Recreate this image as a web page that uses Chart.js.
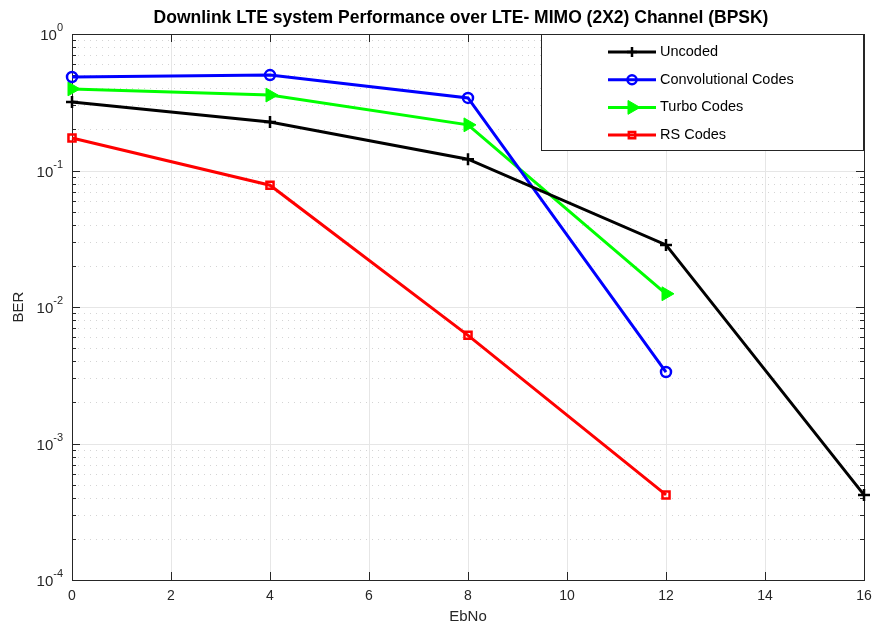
<!DOCTYPE html>
<html><head><meta charset="utf-8">
<script src="https://cdn.jsdelivr.net/npm/chart.js@4"></script>
<style>html,body{margin:0;padding:0;background:#fff}#wrap{width:874px;height:623px}</style>
</head><body><div id="wrap"><canvas id="c" width="874" height="623"></canvas></div>
<script>
const ebno = [0, 4, 8, 12, 16];
const uncoded = [0.318, 0.227, 0.121, 0.0285, 0.00042];
const convolutional = [0.484, 0.50, 0.34, 0.00334];
const turbo = [0.396, 0.357, 0.216, 0.0125];
const rsCodes = [0.173, 0.078, 0.0062, 0.00042];
const xTicks = [0, 2, 4, 6, 8, 10, 12, 14, 16];
const yDecades = [-4, -3, -2, -1, 0];
const titleText = 'Downlink LTE system Performance over LTE- MIMO (2X2) Channel (BPSK)';
const xLabel = 'EbNo';
const yLabel = 'BER';
const seriesNames = ['Uncoded', 'Convolutional Codes', 'Turbo Codes', 'RS Codes'];

const pts = arr => arr.map((v, i) => ({x: ebno[i], y: v}));
const FONT = '"Liberation Sans", Arial, sans-serif';

const datasets = [
  {label: seriesNames[0], data: pts(uncoded), borderColor: '#000', backgroundColor: '#000', pointStyle: 'cross', pointRadius: 6, pointBorderWidth: 2.5, borderWidth: 3, legendRadius: 5, clip: 10},
  {label: seriesNames[1], data: pts(convolutional), borderColor: '#0000ff', backgroundColor: 'rgba(0,0,0,0)', pointStyle: 'circle', pointRadius: 5, pointBorderWidth: 2.5, borderWidth: 3, legendRadius: 4.5, clip: 10},
  {label: seriesNames[2], data: pts(turbo), borderColor: '#00ff00', backgroundColor: '#00ff00', pointStyle: 'triangle', pointRotation: 90, pointRadius: 8, pointBorderWidth: 1, borderWidth: 3, legendRadius: 8, clip: 10},
  {label: seriesNames[3], data: pts(rsCodes), borderColor: '#ff0000', backgroundColor: 'rgba(0,0,0,0)', pointStyle: 'rect', pointRadius: 5, pointBorderWidth: 2.5, borderWidth: 3, legendRadius: 4.5, clip: 10}
];

const decor = {
  id: 'decor',
  beforeDatasetsDraw(chart) {
    const ctx = chart.ctx, a = chart.chartArea, xs = chart.scales.x, ys = chart.scales.y;
    ctx.save();
    ctx.strokeStyle = '#d4d4d4'; ctx.lineWidth = 1; ctx.setLineDash([1, 5]);
    for (let d = -4; d < 0; d++) {
      for (let m = 2; m <= 9; m++) {
        const y = Math.round(ys.getPixelForValue(m * Math.pow(10, d))) + 0.5;
        ctx.beginPath(); ctx.moveTo(a.left, y); ctx.lineTo(a.right, y); ctx.stroke();
      }
    }
    ctx.setLineDash([]);
    ctx.strokeStyle = '#e6e6e6';
    yDecades.forEach(d => {
      const y = Math.round(ys.getPixelForValue(Math.pow(10, d))) + 0.5;
      ctx.beginPath(); ctx.moveTo(a.left, y); ctx.lineTo(a.right, y); ctx.stroke();
    });
    xTicks.forEach(t => {
      const x = Math.round(xs.getPixelForValue(t)) + 0.5;
      ctx.beginPath(); ctx.moveTo(x, a.top); ctx.lineTo(x, a.bottom); ctx.stroke();
    });
    ctx.strokeStyle = '#262626'; ctx.lineWidth = 1;
    ctx.strokeRect(a.left + 0.5, a.top + 0.5, a.right - a.left, a.bottom - a.top);
    ctx.beginPath();
    for (let d = -4; d <= 0; d++) {
      const y = Math.round(ys.getPixelForValue(Math.pow(10, d))) + 0.5;
      ctx.moveTo(a.left, y); ctx.lineTo(a.left + 8, y);
      ctx.moveTo(a.right, y); ctx.lineTo(a.right - 8, y);
      if (d < 0) for (let m = 2; m <= 9; m++) {
        const ym = Math.round(ys.getPixelForValue(m * Math.pow(10, d))) + 0.5;
        ctx.moveTo(a.left, ym); ctx.lineTo(a.left + 4, ym);
        ctx.moveTo(a.right, ym); ctx.lineTo(a.right - 4, ym);
      }
    }
    xTicks.forEach(t => {
      const x = Math.round(xs.getPixelForValue(t)) + 0.5;
      ctx.moveTo(x, a.bottom); ctx.lineTo(x, a.bottom - 8);
      ctx.moveTo(x, a.top); ctx.lineTo(x, a.top + 8);
    });
    ctx.stroke();
    ctx.restore();
  },
  afterDatasetsDraw(chart) {
    const ctx = chart.ctx, a = chart.chartArea, ys = chart.scales.y;
    ctx.save();
    ctx.fillStyle = '#262626';
    yDecades.forEach(d => {
      const y = ys.getPixelForValue(Math.pow(10, d));
      const exp = String(d);
      ctx.font = '11px ' + FONT;
      const ew = ctx.measureText(exp).width;
      ctx.textBaseline = 'alphabetic'; ctx.textAlign = 'left';
      const right = a.left - 9;
      ctx.fillText(exp, right - ew, y - 3);
      ctx.font = '15px ' + FONT;
      const bw = ctx.measureText('10').width;
      ctx.fillText('10', right - ew - bw, y + 6);
    });
    ctx.fillStyle = '#000';
    ctx.font = 'bold 17.5px ' + FONT; ctx.textAlign = 'center'; ctx.textBaseline = 'middle';
    ctx.fillText(titleText, 461, 18);
    ctx.fillStyle = '#262626';
    ctx.font = '15px ' + FONT;
    ctx.fillText(xLabel, (a.left + a.right) / 2, 617);
    ctx.save(); ctx.translate(19, (a.top + a.bottom) / 2); ctx.rotate(-Math.PI / 2);
    ctx.fillText(yLabel, 0, 0); ctx.restore();
    const lx = 541, ly = a.top, lw = a.right - lx - 1, lh = 116;
    ctx.fillStyle = '#fff'; ctx.fillRect(lx, ly, lw, lh);
    ctx.strokeStyle = '#262626'; ctx.lineWidth = 1;
    ctx.strokeRect(lx + 0.5, ly + 0.5, lw, lh);
    chart.data.datasets.forEach((ds, i) => {
      const y = 52 + i * 27.7;
      ctx.save();
      ctx.strokeStyle = ds.borderColor; ctx.lineWidth = 3;
      ctx.beginPath(); ctx.moveTo(608, y); ctx.lineTo(656, y); ctx.stroke();
      ctx.fillStyle = ds.backgroundColor; ctx.lineWidth = ds.pointBorderWidth;
      Chart.helpers.drawPoint(ctx, {pointStyle: ds.pointStyle, rotation: ds.pointRotation || 0, radius: ds.legendRadius, borderWidth: ds.pointBorderWidth}, 632, y);
      ctx.restore();
      ctx.fillStyle = '#000'; ctx.font = '14.5px ' + FONT; ctx.textAlign = 'left'; ctx.textBaseline = 'middle';
      ctx.fillText(ds.label, 660, y);
    });
    ctx.restore();
  }
};

new Chart(document.getElementById('c'), {
  type: 'line',
  data: {datasets},
  options: {
    responsive: false, animation: false, devicePixelRatio: 1,
    layout: {padding: {top: 34, right: 10, left: 0, bottom: 0}},
    plugins: {legend: {display: false}, title: {display: false}, tooltip: {enabled: false}},
    elements: {line: {tension: 0}},
    scales: {
      x: {type: 'linear', min: 0, max: 16,
          afterBuildTicks: s => { s.ticks = xTicks.map(v => ({value: v})); },
          ticks: {color: '#262626', font: {size: 14, family: FONT}, padding: 8, maxRotation: 0},
          grid: {display: false, drawTicks: false}, border: {display: false},
          afterFit: s => { s.height = 43; s.paddingLeft = 0; s.paddingRight = 0; }},
      y: {type: 'logarithmic', min: 1e-4, max: 1,
          ticks: {display: false},
          grid: {display: false, drawTicks: false}, border: {display: false},
          afterFit: s => { s.width = 72; s.paddingTop = 0; s.paddingBottom = 0; }}
    }
  },
  plugins: [decor]
});
</script></body></html>
